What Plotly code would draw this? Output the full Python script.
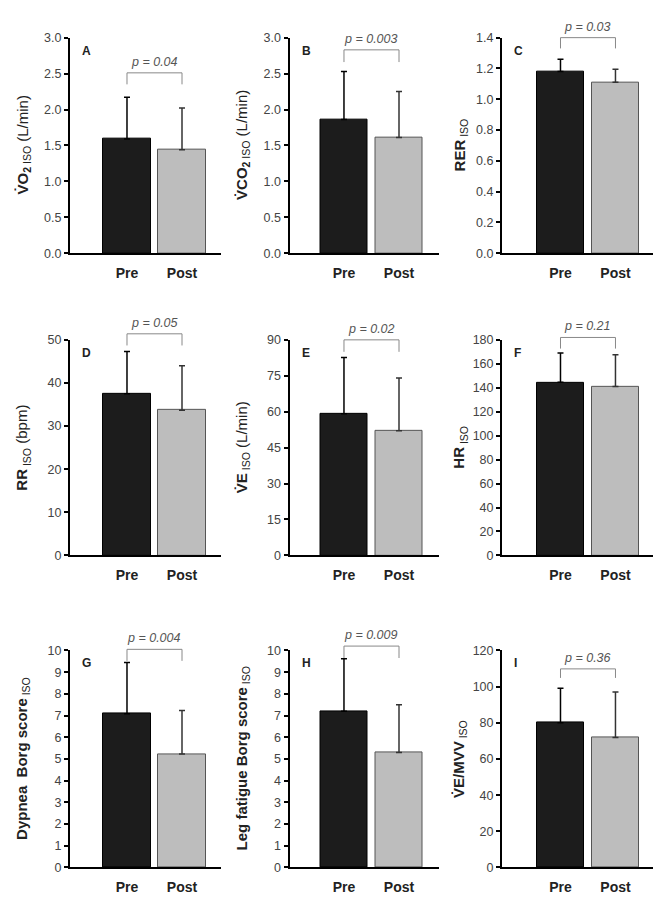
import plotly.graph_objects as go

# ---------------- data ----------------
panel_letters = ["A", "B", "C", "D", "E", "F", "G", "H", "I"]
categories = ["Pre", "Post"]
pre_mean = [1.59, 1.86, 1.18, 37.5, 59.1, 144.5, 7.08, 7.2, 80.0]
pre_sd = [0.58, 0.67, 0.08, 9.8, 23.5, 24.6, 2.36, 2.42, 19.1]
post_mean = [1.44, 1.61, 1.11, 33.7, 52.1, 141.0, 5.23, 5.3, 71.8]
post_sd = [0.58, 0.64, 0.085, 10.3, 22.0, 26.5, 2.0, 2.2, 25.2]
p_values = ["0.04", "0.003", "0.03", "0.05", "0.02", "0.21", "0.004", "0.009", "0.36"]
bracket_top = [2.51, 2.83, 1.40, 51.4, 90.0, 182.0, 10.05, 10.2, 109.8]
bracket_bottom = [2.35, 2.66, 1.33, 48.7, 85.0, 172.7, 9.52, 9.65, 104.8]
y_max = [3.0, 3.0, 1.4, 50, 90, 180, 10, 10, 120]
y_dtick = [0.5, 0.5, 0.2, 10, 15, 20, 1, 1, 20]
y_titles = [
    "<b>V̇O<sub>2</sub></b><sub> ISO</sub> (L/min)",
    "<b>V̇CO<sub>2</sub></b><sub> ISO</sub> (L/min)",
    "<b>RER</b><sub> ISO</sub>",
    "<b>RR</b><sub> ISO</sub> (bpm)",
    "<b>V̇E</b><sub> ISO</sub> (L/min)",
    "<b>HR</b><sub> ISO</sub>",
    "<b>Dypnea  Borg score</b><sub> ISO</sub>",
    "<b>Leg fatigue Borg score</b><sub> ISO</sub>",
    "<b>V̇E/MVV</b><sub> ISO</sub>",
]

# ---------------- layout geometry ----------------
W, H = 661, 897
col_px = [(62, 213), (281.5, 431), (494, 652)]
row_px = [(23, 242), (330, 549), (645.5, 866)]
x_ranges = [(-1.036, 1.709), (-0.99, 1.727), (-1.064, 1.81)]
title_off = [-47, -47, -42]

FONT = "Liberation Sans, Arial, sans-serif"
PRE_COLOR = "#1c1c1c"
POST_COLOR = "#bdbdbd"

fig = go.Figure()
layout = dict(
    width=W, height=H,
    margin=dict(l=0, r=0, t=0, b=0),
    paper_bgcolor="white", plot_bgcolor="white",
    showlegend=False,
    font=dict(family=FONT),
    bargap=0,
)
annotations = []
shapes = []

for i in range(9):
    r, c = divmod(i, 3)
    n = "" if i == 0 else str(i + 1)
    xa, ya = "x" + n, "y" + n
    x0, x1 = col_px[c]
    y0, y1 = row_px[r]
    layout["xaxis" + n] = dict(
        domain=[x0 / W, x1 / W], range=list(x_ranges[c]), anchor=ya,
        showline=True, linewidth=2, linecolor="black", ticks="",
        tickvals=[0, 1], ticktext=[f"<b>{t}</b>" for t in categories],
        showgrid=False, zeroline=False,
        tickfont=dict(family=FONT, size=14, color="#222"),
        ticklabelstandoff=6, fixedrange=True,
    )
    layout["yaxis" + n] = dict(
        domain=[1 - y1 / H, 1 - y0 / H], range=[0, y_max[i]], anchor=xa,
        showline=True, linewidth=2, linecolor="black", ticks="outside",
        ticklen=4, tickwidth=1.5, tickcolor="black", dtick=y_dtick[i], tick0=0,
        tickformat=".1f" if y_max[i] < 5 else "d",
        showgrid=False, zeroline=False,
        tickfont=dict(family=FONT, size=12.5, color="#444"), fixedrange=True,
    )
    # bars
    fig.add_trace(go.Bar(
        x=[0], y=[pre_mean[i]], width=0.855, xaxis=xa, yaxis=ya,
        marker=dict(color=PRE_COLOR, line=dict(color="#000", width=1)),
        error_y=dict(type="data", symmetric=False, array=[pre_sd[i]], arrayminus=[0],
                     color="#000", thickness=1.5, width=3),
    ))
    fig.add_trace(go.Bar(
        x=[1], y=[post_mean[i]], width=0.855, xaxis=xa, yaxis=ya,
        marker=dict(color=POST_COLOR, line=dict(color="#555", width=1)),
        error_y=dict(type="data", symmetric=False, array=[post_sd[i]], arrayminus=[0],
                     color="#333", thickness=1.5, width=3),
    ))
    # significance bracket
    yt = bracket_top[i] / y_max[i]
    yb = bracket_bottom[i] / y_max[i]
    shapes.append(dict(
        type="path", xref=xa, yref=ya + " domain",
        path=f"M 0,{yb} L 0,{yt} L 1,{yt} L 1,{yb}",
        line=dict(color="#888", width=1),
    ))
    annotations.append(dict(
        xref=xa, yref=ya + " domain", x=0.5, y=yt, yanchor="bottom", yshift=2,
        text=f"<i>p = {p_values[i]}</i>", showarrow=False,
        font=dict(family=FONT, size=12.5, color="#555"),
    ))
    # panel letter
    annotations.append(dict(
        xref=xa + " domain", yref=ya + " domain", x=0, y=1,
        xanchor="left", yanchor="top", xshift=10, yshift=-4,
        text=f"<b>{panel_letters[i]}</b>", showarrow=False,
        font=dict(family=FONT, size=12, color="#222"),
    ))
    # y title
    annotations.append(dict(
        xref=xa + " domain", yref=ya + " domain", x=0, y=0.5,
        xanchor="center", yanchor="middle", xshift=title_off[c],
        textangle=-90, text=y_titles[i], showarrow=False,
        font=dict(family=FONT, size=15, color="#222"),
    ))

layout["annotations"] = annotations
layout["shapes"] = shapes
fig.update_layout(**layout)
fig.write_html("out.html")
